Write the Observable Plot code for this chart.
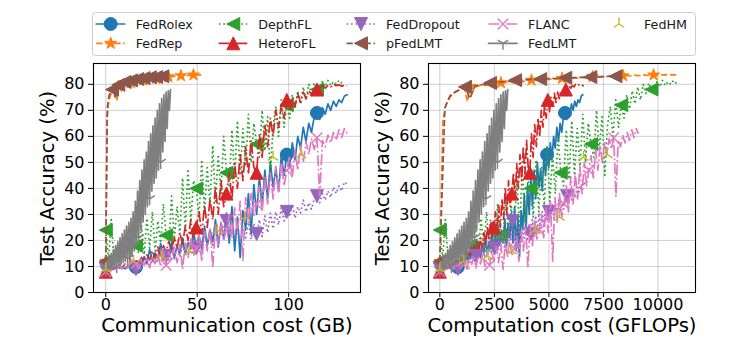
<!DOCTYPE html>
<html><head><meta charset="utf-8">
<script src="https://cdn.jsdelivr.net/npm/d3@7"></script>
<script src="https://cdn.jsdelivr.net/npm/@observablehq/plot@0.6"></script>
<style>
html,body{margin:0;padding:0;background:#fff;}
#wrap{position:relative;width:735px;height:338px;overflow:hidden;font-family:"DejaVu Sans",sans-serif;}
#legend{position:absolute;left:0;top:0;}
#left{position:absolute;left:0;top:50px;}
#right{position:absolute;left:367px;top:50px;}
</style></head>
<body><div id="wrap"><div id="left"></div><div id="right"></div><div id="legend"></div></div>
<script>
// ---------------- data (test accuracy %, one value per logged round) ----------------
const methods = ["FedRolex","FedRep","DepthFL","HeteroFL","FedDropout","pFedLMT","FLANC","FedLMT","FedHM"];

const accFedRolex = [9.5,9.2,9.6,9.3,9.8,9.4,9.7,9.1,9.9,9.4,
10.2,9.7,11.5,10.2,13.8,11.0,16.5,12.4,15.2,13.0,
18.9,12.8,15.5,14.2,19.5,13.5,17.8,15.0,21.0,14.6,
19.2,16.8,23.5,17.0,22.0,16.5,25.5,18.0,24.0,19.5,
28.0,17.5,26.5,21.0,30.5,19.0,33.0,16.0,29.0,13.5,
31.5,24.0,38.0,22.5,41.5,30.0,44.5,33.0,47.0,36.0,
50.0,40.5,47.5,39.0,52.5,45.0,53.0,48.0,57.5,51.0,
60.0,55.5,63.5,58.0,65.0,61.5,67.5,69.0,66.5,71.0,
68.5,72.5,70.0,73.5,71.5,74.0,73.0,75.5,76.0];

const accFedRep = [12,66,72,74.5,76,77,77.6,78,78.5,73.5,
79.2,79.4,79.1,79.6,79.8,79.5,80.0,80.2,79.9,80.4,
80.6,80.5,80.8,80.9,80.6,81.0,81.1,80.9,81.3,81.4,
81.6,81.4,81.7,81.8,81.6,82.0,81.9,82.1,82.2,82.0,
82.3,82.4,82.2,82.5,82.6,82.4,82.7,82.8,82.6,82.9,
82.9,83.0,82.8,83.1,83.0,83.2,83.1,83.3,83.1,83.3,
83.3,83.4,83.2,83.4,83.5,83.3,83.5,83.6,83.4,83.6,
83.6,83.5,83.7,83.6,83.7,83.5,83.7,83.6,83.7];

const accDepthFL = [24.0,13.0,28.0,12.5,16.0,11.5,19.0,13.5,21.5,14.0,
23.0,18.0,15.0,26.0,14.5,28.5,17.0,31.0,16.0,27.5,
19.0,34.0,22.0,18.5,37.0,20.5,33.0,22.5,44.0,24.0,
47.5,27.0,43.0,40.0,29.0,51.0,31.0,48.0,33.5,56.5,
35.0,53.0,38.0,60.0,46.0,41.0,62.5,43.5,66.0,45.0,
63.0,48.5,68.5,50.0,65.0,57.0,52.0,70.0,54.5,67.5,
45.0,64.0,71.5,60.0,74.0,63.5,72.0,67.0,76.0,70.5,
77.5,72.5,79.0,74.0,80.0,76.5,80.5,78.0,77.0,81.0,
79.0,81.5,79.5,81.0,80.0,81.5,80.5,80.5];

const accHeteroFL = [8.0,9.0,8.5,10.0,9.0,10.5,9.5,11.0,10.0,12.0,
10.5,12.5,11.0,13.5,12.0,14.5,12.5,16.0,13.0,17.5,
14.0,18.0,15.5,19.5,16.0,21.0,17.0,23.0,18.5,25.5,
20.0,28.0,21.0,25.0,31.0,22.5,33.5,25.0,36.0,28.0,
40.5,30.0,43.0,33.0,38.0,46.0,36.0,49.5,40.0,53.0,
43.0,56.0,45.5,58.5,48.0,46.0,61.0,52.0,64.5,56.0,
67.0,60.0,70.0,63.5,72.0,67.0,74.0,69.5,75.0,71.5,
76.5,73.0,77.0,74.5,77.5,76.0,78.5,78.0,78.5,79.5,
78.5,79.5,79.0,80.0,79.5,79.8,79.3,79.6,79.4];

const accFedDropout = [9.0,8.5,9.5,8.8,9.8,9.0,10.2,9.2,10.5,9.5,
11.0,9.0,11.5,10.0,12.0,10.5,13.0,11.0,13.5,11.5,
14.5,12.0,14.0,12.5,16.0,13.0,17.5,14.0,18.0,15.0,
19.5,15.5,20.5,17.0,21.0,16.5,22.5,18.0,23.0,17.5,
24.5,19.0,25.0,20.0,27.5,19.5,24.0,20.5,26.0,19.0,
24.5,21.0,27.0,20.5,26.5,22.5,28.0,21.5,29.5,23.0,
30.5,24.5,31.0,26.0,32.5,27.5,31.0,29.0,34.0,28.5,
33.0,30.5,35.5,31.0,34.5,32.0,36.0,37.0,34.5,38.0,
35.5,39.0,36.5,40.5,38.0,41.0,39.0,42.5,41.5];

const accPFedLMT = [12,71,75.5,77,78,79,74.5,79.3,79.8,80.0,
80.5,80.6,80.9,81.0,81.2,81.6,81.5,81.7,81.9,81.8,
82.0,82.1,82.3,82.2,82.4,82.5,82.4,82.6,82.7,82.6,
82.8,82.9,82.8,83.0,83.0,83.1,83.1];

const accFLANC = [8.0,9.5,8.5,10.0,9.0,10.5,9.0,11.0,9.5,12.0,
10.0,11.0,9.0,12.5,10.5,13.5,9.5,14.0,11.0,15.0,
10.0,16.0,10.5,15.5,12.0,17.5,11.5,18.5,9.0,19.0,
13.5,20.5,14.0,17.0,22.0,12.0,23.5,16.0,25.0,9.5,
26.0,18.0,27.5,20.0,24.0,30.0,21.0,32.5,23.0,35.0,
12.0,36.5,27.0,38.0,29.0,34.0,41.0,31.0,44.5,34.0,
46.0,36.0,48.5,38.0,50.0,41.0,47.0,52.5,44.0,55.0,
47.0,56.5,50.0,58.0,53.0,59.0,55.0,59.5,37.0,58.5,
56.0,60.5,57.5,61.5,58.5,62.5,59.5,63.0,61.0];

const accFedLMT = [8.5,12,8.5,13.5,9,15,9,16.5,10,18,
10,19.5,10.5,21,11,22.5,11.5,24,12,25.5,
13,27,12,28.5,14,31,16,35,18,39,
21,43,24,47,27,51,30,54,33,58,
36,61,39,64,42,67,44,70,47,72.5,
50,74.5,54,76,58,77,63,77.5,70,78];

const accFedHM = [9,12,14,16,24,29,52,53];

// cost accumulated between two logged rounds
const commStepGB     = [1.5, 0.685, 1.5, 1.5, 1.5, 0.86, 1.5, 0.6, 15.25];
const compStepGFLOPs = [74.5, 140, 126, 75, 75.75, 230, 103.5, 52.8, 1097];

const accs = [accFedRolex, accFedRep, accDepthFL, accHeteroFL, accFedDropout, accPFedLMT, accFLANC, accFedLMT, accFedHM];

const yTicks = [0,10,20,30,40,50,60,70,80];
const commTicks = [0,50,100];
const compTicks = [0,2500,5000,7500,10000];

// ---------------- marker symbols (matplotlib-like) ----------------
const symCircle = {draw(c,s){const r=Math.sqrt(s/Math.PI); c.moveTo(r,0); c.arc(0,0,r,0,2*Math.PI); c.closePath();}};
const symTriUp = {draw(c,s){const h=Math.sqrt(s/Math.PI); c.moveTo(0,-h); c.lineTo(h,h); c.lineTo(-h,h); c.closePath();}};
const symTriDown = {draw(c,s){const h=Math.sqrt(s/Math.PI); c.moveTo(0,h); c.lineTo(h,-h); c.lineTo(-h,-h); c.closePath();}};
const symTriLeft = {draw(c,s){const h=Math.sqrt(s/Math.PI); c.moveTo(-h,0); c.lineTo(h,-h); c.lineTo(h,h); c.closePath();}};
const symStar = {draw(c,s){const R=Math.sqrt(s/Math.PI), r=R*0.381966;
  for(let k=0;k<10;k++){const a=-Math.PI/2+k*Math.PI/5, rr=k%2?r:R; const x=rr*Math.cos(a), y=rr*Math.sin(a); k?c.lineTo(x,y):c.moveTo(x,y);} c.closePath();}};
const symX = {draw(c,s){const h=Math.sqrt(s/Math.PI)*0.75; c.moveTo(-h,-h); c.lineTo(h,h); c.moveTo(-h,h); c.lineTo(h,-h);}};
const symTri1 = {draw(c,s){const h=Math.sqrt(s/Math.PI); c.moveTo(0,0); c.lineTo(0,h); c.moveTo(0,0); c.lineTo(-0.8*h,-0.5*h); c.moveTo(0,0); c.lineTo(0.8*h,-0.5*h);}};
const symTri2 = {draw(c,s){const h=Math.sqrt(s/Math.PI); c.moveTo(0,0); c.lineTo(0,-h); c.moveTo(0,0); c.lineTo(-0.8*h,0.5*h); c.moveTo(0,0); c.lineTo(0.8*h,0.5*h);}};

const LW = 1.7;
const DASHED = [3.7*LW, 1.6*LW].join(",");
const DOTTED = [1*LW, 1.65*LW].join(",");
const DASHDOT = [6.4*LW, 1.6*LW, 1*LW, 1.6*LW].join(",");
const every = (k, from, to) => d3.range(from, to + 1, k);

const styles = {
  FedRolex:  {color:"#1f77b4", dash:null,    sym:symCircle,  r:6.5, filled:true,  marks:[11,66,77]},
  FedRep:    {color:"#ff7f0e", dash:DASHED,  sym:symStar,    r:6.3, filled:true,  marks:every(10,0,70)},
  DepthFL:   {color:"#2ca02c", dash:DOTTED,  sym:symTriLeft, r:6.5, filled:true,  marks:every(11,0,77)},
  HeteroFL:  {color:"#d62728", dash:DASHDOT, sym:symTriUp,   r:6.5, filled:true,  marks:[0,33,44,55,66,77]},
  FedDropout:{color:"#9467bd", dash:DOTTED,  sym:symTriDown, r:6.5, filled:true,  marks:every(11,0,77)},
  pFedLMT:   {color:"#8c564b", dash:DASHED,  sym:symTriLeft, r:6.5, filled:true,  marks:every(4,0,36), marksR:every(5,0,35)},
  FLANC:     {color:"#e377c2", dash:DASHDOT, sym:symX,       r:7,   filled:false, marks:every(11,0,77)},
  FedLMT:    {color:"#7f7f7f", dash:null,    sym:symTri1,    r:6.5, filled:false, marks:every(10,0,50)},
  FedHM:     {color:"#bcbd22", dash:null,    sym:symTri2,    r:6.5, filled:false, marks:every(1,0,7), noLine:true}
};

function panel({steps, xDomain, xTicks, xLabel, width, marginLeft, marginRight, right}) {
  const gridStyle = {stroke:"#b0b0b0", strokeOpacity:0.75, strokeWidth:0.8};
  const marks = [
    Plot.gridX(xTicks, gridStyle),
    Plot.gridY(yTicks, gridStyle)
  ];
  methods.forEach((m, k) => {
    const st = styles[m];
    const data = accs[k].map((y, i) => ({x: i * steps[k], y, i}));
    if (!st.noLine) {
      marks.push(Plot.line(data, {x:"x", y:"y", stroke:st.color, strokeWidth:LW,
        strokeDasharray: st.dash, strokeLinecap: st.dash ? "butt" : "round", strokeLinejoin:"round"}));
    }
    const idx = new Set(right && st.marksR ? st.marksR : st.marks);
    marks.push(Plot.dot(data.filter(d => idx.has(d.i)), {x:"x", y:"y", symbol:st.sym, r:st.r,
      fill: st.filled ? st.color : "none", stroke: st.color, strokeWidth: st.filled ? 1 : 1.4}));
  });
  marks.push(
    Plot.axisX(xTicks, {tickSize:5, tickPadding:1, fontSize:16, tickFormat:d => String(d), label:null}),
    Plot.axisY(yTicks, {tickSize:5, tickPadding:4, fontSize:16, tickFormat:d => String(d), label:null}),
    Plot.frame({stroke:"black", strokeWidth:1.1}),
    Plot.text([xLabel], {frameAnchor:"bottom", text:d => d, dy:26, lineAnchor:"top", fontSize:19.6, textAnchor:"middle"}),
    Plot.text(["Test Accuracy (%)"], {frameAnchor:"left", text:d => d, dx:-46, rotate:-90, lineAnchor:"middle", fontSize:19.6, textAnchor:"middle"})
  );
  return Plot.plot({
    width, height:288, marginLeft, marginRight, marginTop:13, marginBottom:46,
    x:{domain:xDomain, axis:null}, y:{domain:[0,88], axis:null},
    style:{fontFamily:"DejaVu Sans", fontSize:"16px", color:"black", background:"transparent", overflow:"visible"},
    marks
  });
}

document.getElementById("left").append(panel({
  steps: commStepGB, xDomain:[-6.7,139.3], xTicks:commTicks, xLabel:"Communication cost (GB)",
  width:367, marginLeft:93, marginRight:7, right:false
}));
document.getElementById("right").append(panel({
  steps: compStepGFLOPs, xDomain:[-520,11720], xTicks:compTicks, xLabel:"Computation cost (GFLOPs)",
  width:368, marginLeft:61, marginRight:40, right:true
}));

// ---------------- legend ----------------
const legendCols = [[0,1],[2,3],[4,5],[6,7],[8]];
const colTextX = [135.7, 258.3, 386, 528, 644];
const rowY = [24, 43.3];
const svg = d3.create("svg").attr("width",735).attr("height",60)
  .style("font-family","DejaVu Sans").style("overflow","visible");
svg.append("rect").attr("x",92.5).attr("y",12.5).attr("width",603).attr("height",43).attr("rx",3)
  .attr("fill","white").attr("fill-opacity",0.85).attr("stroke","#cccccc").attr("stroke-width",1);
legendCols.forEach((col, ci) => col.forEach((k, ri) => {
  const m = methods[k], st = styles[m], tx = colTextX[ci], y = rowY[ri];
  if (!st.noLine) {
    svg.append("line").attr("x1",tx-39.5).attr("x2",tx-11).attr("y1",y).attr("y2",y)
      .attr("stroke",st.color).attr("stroke-width",LW).attr("stroke-dasharray",st.dash)
      .attr("stroke-linecap", st.dash ? "butt" : "round");
  }
  const p = d3.path(); st.sym.draw(p, Math.PI*st.r*st.r);
  svg.append("path").attr("d",p.toString()).attr("transform",`translate(${tx-25},${y})`)
    .attr("fill", st.filled ? st.color : "none").attr("stroke",st.color).attr("stroke-width", st.filled ? 1 : 1.4);
  svg.append("text").attr("x",tx).attr("y",y).attr("dy","0.36em").attr("font-size",12.7).attr("fill","#1a1a1a").text(m);
}));
document.getElementById("legend").append(svg.node());
</script>
</body></html>
